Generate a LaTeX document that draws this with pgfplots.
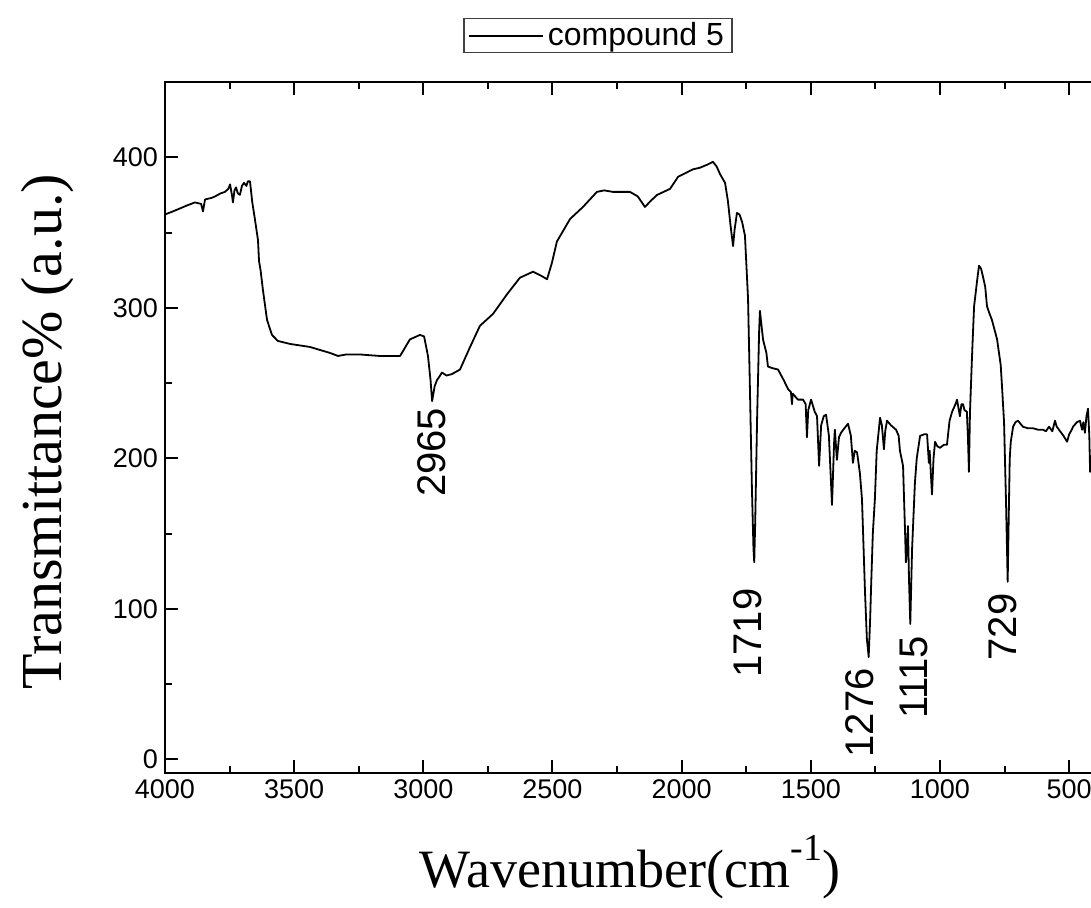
\documentclass[border=0pt]{standalone}
\usepackage{fontspec}
\setmainfont{Liberation Serif}
\newfontfamily\arial{Liberation Sans}
\usepackage{pgfplots}
\pgfplotsset{compat=1.18}

% IR spectrum, wavenumber vs transmittance
\pgfplotstableread{
w v
4000 362
3970 364
3942 366
3915 368
3884 370
3860 369
3853 364
3845 372
3820 373
3806 374
3785 376
3768 377
3755 379
3748 382
3740 374
3737 370
3731 378
3725 380
3718 376
3710 375
3702 381
3694 383
3685 381
3679 384
3671 384
3662 370
3652 359
3640 345
3636 331
3630 325
3621 312
3605 292
3586 282
3563 278
3516 276
3439 274
3400 272
3361 270
3330 268
3300 269
3245 269
3168 268
3090 268
3052 279
3013 282
2997 281
2982 268
2972 252
2966 238
2956 248
2947 252
2935 255
2928 257
2910 255
2889 256
2858 259
2819 274
2781 288
2730 296
2676 309
2626 320
2575 324
2541 321
2521 319
2502 330
2483 344
2432 359
2382 367
2328 377
2300 378
2266 377
2200 377
2170 374
2142 367
2120 371
2095 375
2045 379
2014 387
1956 392
1930 393
1902 395
1890 396
1879 397
1865 394
1852 389
1832 383
1821 371
1811 355
1801 341
1795 352
1786 363
1776 362
1766 357
1755 348
1743 306
1735 240
1728 180
1722 140
1719 131
1715 160
1708 226
1700 285
1697 298
1692 290
1685 279
1672 270
1666 261
1650 260
1627 259
1605 252
1588 246
1577 244
1573 236
1570 243
1550 239
1530 239
1520 236
1515 214
1510 232
1499 239
1485 231
1476 228
1468 195
1460 222
1450 228
1441 229
1430 215
1418 169
1410 210
1407 219
1399 199
1391 214
1383 217
1370 220
1356 223
1345 215
1337 197
1330 205
1321 204
1310 190
1302 173
1290 110
1283 80
1276 68
1270 95
1267 113
1260 150
1252 173
1245 205
1232 227
1225 222
1217 206
1212 218
1205 225
1190 222
1170 219
1160 215
1155 205
1143 195
1135 150
1132 131
1128 140
1124 155
1120 120
1115 90
1108 140
1097 184
1090 200
1077 215
1060 216
1050 216
1043 197
1040 205
1031 176
1025 200
1019 211
1010 208
1000 207
985 209
973 209
963 225
953 231
940 236
934 239
928 233
923 228
917 236
911 236
905 232
896 231
892 215
888 191
884 230
876 268
868 301
857 317
849 328
841 326
834 321
825 314
818 301
808 296
799 292
779 279
765 262
760 248
752 224
744 168
738 118
734 160
730 200
726 211
717 221
708 224
698 225
679 221
660 220
640 220
620 219
601 219
590 218
578 221
565 218
555 225
548 221
535 218
522 215
508 211
500 216
490 219
485 221
470 224
458 225
450 219
445 224
439 217
433 228
427 233
422 215
419 191
410 205
400 210
}\spectrum

\begin{document}
\begin{tikzpicture}
\begin{axis}[
name=ax,
scale only axis,
width=465pt, height=345.5pt,
x dir=reverse,
xmin=400, xmax=4000,
ymin=-9, ymax=450,
xtick={500,1000,...,4000},
ytick={0,100,...,400},
minor x tick num=1,
minor y tick num=1,
tick align=inside,
xtick pos=both,
ytick pos=left,
major tick length=6.5pt,
minor tick length=3.5pt,
every tick/.style={black, line width=1pt},
axis line style={line width=1.2pt},
ticklabel style={font=\arial\fontsize{13.5}{15}\selectfont},
/pgf/number format/assume math mode=true,
/pgf/number format/1000 sep={},
xlabel={Wavenumber(cm\raisebox{0.5em}{\fontsize{19}{19}\selectfont -1})},
xlabel style={font=\fontsize{27}{32}\selectfont, at={(axis description cs:0.5,-0.1664)}, anchor=base},
ylabel={Transmittance\% (a.u.)},
ylabel style={font=\fontsize{29}{32}\selectfont, at={(axis description cs:-0.1108,0.494)}, anchor=base, rotate=0},
legend style={at={(axis description cs:0.4656,1.0926)}, anchor=north, draw=black!75, line width=0.6pt,
  font=\arial\fontsize{16}{17}\selectfont, inner xsep=2pt, inner ysep=0pt},
legend image code/.code={\draw[#1] (0pt,0pt) -- (37pt,0pt);},
]
\addplot [black, line width=0.9pt, line join=round] table [x=w, y=v] {\spectrum};
\addlegendentry{compound 5}

\node[rotate=90, font=\arial\fontsize{20}{20}\selectfont] at (axis cs:2966,204) {2965};
\node[rotate=90, font=\arial\fontsize{20}{20}\selectfont] at (axis cs:1743,84) {1719};
\node[rotate=90, font=\arial\fontsize{20}{20}\selectfont] at (axis cs:1310,31) {1276};
\node[rotate=90, font=\arial\fontsize{20}{20}\selectfont] at (axis cs:1101,54.5) {1115};
\node[rotate=90, font=\arial\fontsize{20}{20}\selectfont] at (axis cs:756,88) {729};
\end{axis}
\pgfresetboundingbox
\path ([shift={(-82.5pt,-67.5pt)}]ax.south west) rectangle ([shift={(463pt,386.5pt)}]ax.south west);
\end{tikzpicture}
\end{document}
